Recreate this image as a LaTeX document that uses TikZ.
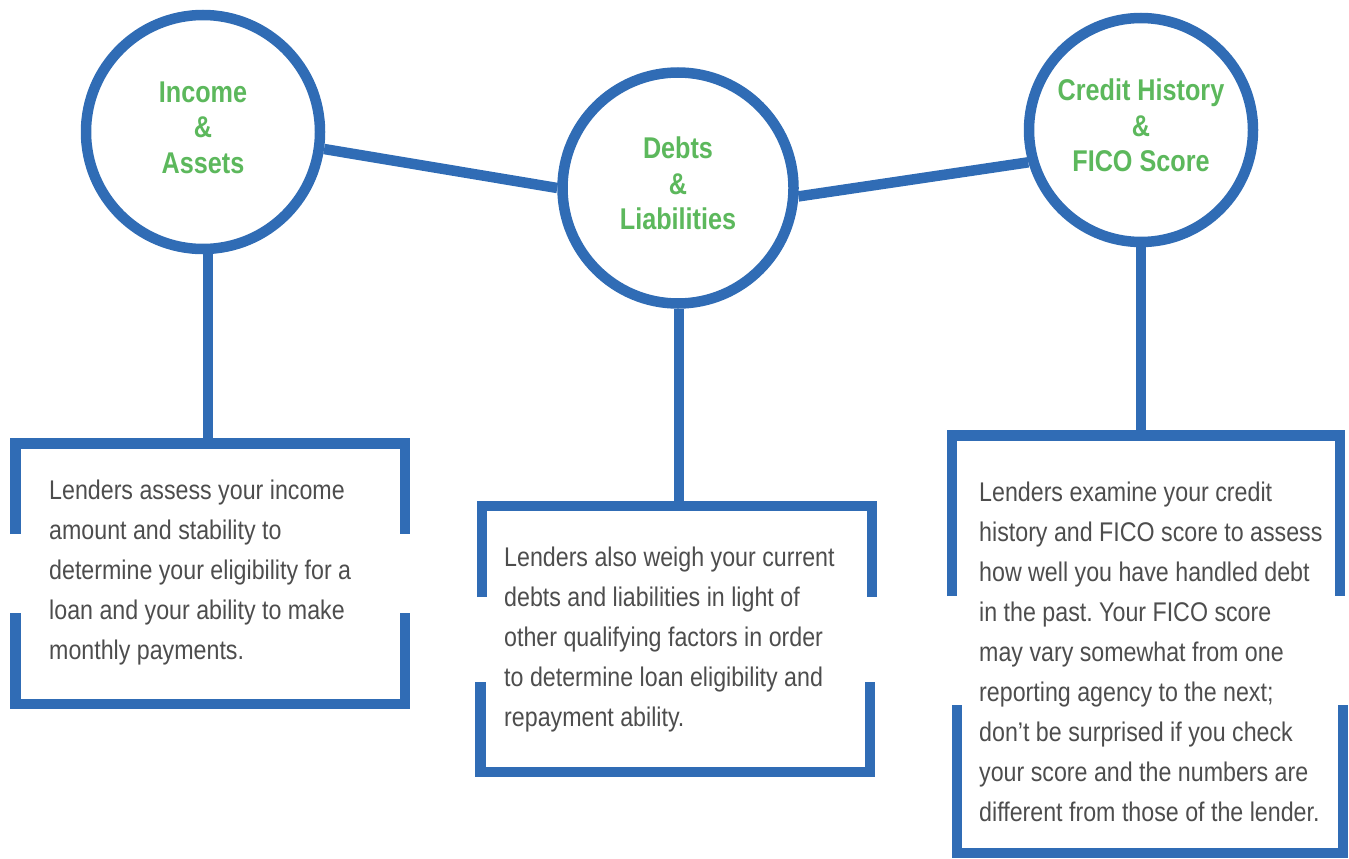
\documentclass[tikz,border=0pt]{standalone}
\usepackage{fontspec}
\newfontfamily\bodyfont[FakeStretch=0.86]{Liberation Sans}
\newfontfamily\headfont[FakeStretch=0.84]{Liberation Sans}
\frenchspacing
\definecolor{ringblue}{HTML}{306CB5}
\definecolor{headgreen}{HTML}{5CB85C}
\definecolor{bodygray}{HTML}{4D4D4D}
\tikzset{
    ring/.style={circle,draw=ringblue,line width=10.5pt,fill=white,text=headgreen,
        font=\headfont\bfseries\fontsize{30}{35.5}\selectfont,align=center,
        inner sep=0pt,text depth=9pt},
    bracket/.style={draw=ringblue,line width=10.5pt},
    blurb/.style={anchor=north west,inner sep=0pt,align=left,text=bodygray,
        font=\bodyfont\fontsize{27}{40}\selectfont}
}
\begin{document}
\begin{tikzpicture}[x=1pt,y=-1pt]
    \useasboundingbox (0,0) rectangle (1349,859);
    \node[ring,minimum size=234pt] (inc) at (203,132) {Income\\\&\\Assets};
    \node[ring,minimum size=231pt] (debt) at (678,188) {Debts\\\&\\Liabilities};
    \node[ring,minimum size=224pt] (cred) at (1141,130) {Credit History\\\&\\FICO Score};
    \draw[bracket] (inc.-8) -- (debt.180);
    \draw[bracket] (debt.-4) -- (cred.196);
    \coordinate (s1) at (208,443.5);
    \coordinate (s2) at (679,506);
    \coordinate (s3) at (1141,435.5);
    \draw[bracket] (s1 |- inc.south) -- (s1);
    \draw[bracket] (s2 |- debt.south) -- (s2);
    \draw[bracket] (s3 |- cred.south) -- (s3);
    \draw[bracket] (15.5,534) |- (405,443.5) -- (405,534);
    \draw[bracket] (15.5,613) |- (405,704) -- (405,613);
    \draw[bracket] (482,597) |- (872,506) -- (872,597);
    \draw[bracket] (480.5,682) |- (870,772) -- (870,682);
    \draw[bracket] (952,596) |- (1340,435.5) -- (1340,596);
    \draw[bracket] (957,705) |- (1343,853) -- (1343,705);
    \node[blurb] (t1) at (49,480) {Lenders assess your income\\amount and stability to\\determine your eligibility for a\\loan and your ability to make\\monthly payments.};
    \node[blurb] (t2) at (504,547) {Lenders also weigh your current\\debts and liabilities in light of\\other qualifying factors in order\\to determine loan eligibility and\\repayment ability.};
    \node[blurb] (t3) at (979,482) {Lenders examine your credit\\history and FICO score to assess\\how well you have handled debt\\in the past. Your FICO score\\may vary somewhat from one\\reporting agency to the next;\\don’t be surprised if you check\\your score and the numbers are\\different from those of the lender.};
\end{tikzpicture}
\end{document}
